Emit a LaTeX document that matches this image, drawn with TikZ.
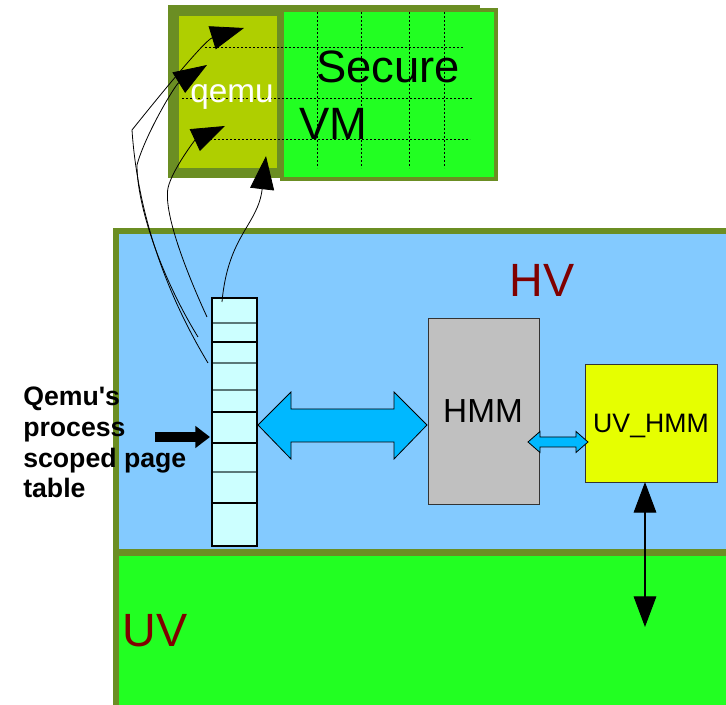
\documentclass[tikz,border=0pt]{standalone}
\usepackage{fontspec}
\setmainfont{Liberation Sans}
\usetikzlibrary{arrows.meta,fit,calc}
\definecolor{frameolive}{HTML}{6B8E23}
\definecolor{vmgreen}{HTML}{22FF22}
\definecolor{hvblue}{HTML}{83CAFF}
\definecolor{qemugreen}{HTML}{AFCF00}
\definecolor{ptcyan}{HTML}{CCFFFF}
\definecolor{linkcyan}{HTML}{00B8FF}
\definecolor{hmmgray}{HTML}{C0C0C0}
\definecolor{uvyellow}{HTML}{E6FF00}
\definecolor{labelred}{HTML}{800000}
\definecolor{rowgray}{HTML}{5A7878}
\begin{document}
\begin{tikzpicture}[
  x=0.75pt, y=-0.75pt,
  box/.style={inner sep=0pt, outer sep=0pt},
  region/.style={box, fill=#1, draw=frameolive, line width=4.5pt},
  unit/.style={box, fill=#1, draw=black!80, line width=0.6pt},
  gridline/.style={black, line width=0.7pt, dash pattern=on 1.2pt off 1.8pt},
  regionlbl/.style={text=labelred, font=\fontsize{35}{40}\selectfont, inner sep=0pt},
  biglbl/.style={font=\fontsize{34}{40}\selectfont, inner sep=0pt},
  link/.style={-{Triangle[length=25pt,width=18pt]}, line width=0.6pt},
  updown/.style={{Triangle[length=23pt,width=17pt]}-{Triangle[length=23pt,width=17pt]}, line width=0.8pt},
  pointer/.style={-{Triangle[length=11pt,width=16pt]}, line width=7.5pt},
  fatlink/.style={fill=linkcyan, draw=black, line width=0.6pt, line join=miter}
]
\useasboundingbox (0,0) rectangle (726,705);

\node[region=vmgreen, fit={(116,553) (740,712)}] (uv) {};
\node[region=hvblue, fit={(116,231) (740,552)}] (hv) {};
\node[regionlbl, anchor=base] (hvlbl) at (542,297) {HV};
\node[regionlbl, anchor=base] (uvlbl) at (155,647) {UV};

\node[box, fill=frameolive, fit={(168,5) (480,178)}] (vmframe) {};
\node[box, fill=vmgreen, draw=frameolive, line width=2.3pt, fit={(282,10) (496,179)}] (securevm) {};
\node[box, fill=qemugreen, fit={(179,16) (277,168)}] (qemu) {};
\foreach \x in {317,361,409,444}
  \draw[gridline] (\x,12) -- (\x,168);
\foreach \y/\a/\b in {47/205/463, 98/182/473, 139/210/470}
  \draw[gridline] (\a,\y) -- (\b,\y);
\node[biglbl, anchor=base] (securelbl) at (388,83) {Secure};
\node[biglbl, anchor=base] (vmlbl) at (333,140) {VM};
\node[text=white, font=\fontsize{25}{30}\selectfont, inner sep=0pt, anchor=base] (qemulbl) at (232,103) {qemu};

\node[box, fill=ptcyan, draw=black, line width=1.5pt, fit={(212,298) (257,546)}] (pt) {};
\foreach \y/\c in {323/rowgray, 342/black, 363/rowgray, 390/rowgray, 412/black, 443/black, 472/rowgray, 503/black}
  \draw[draw=\c, line width=1.1pt] (213,\y) -- (256,\y);
\node[align=left, anchor=north west, inner sep=0pt, font=\fontsize{20}{23}\selectfont\bfseries] (ptlbl) at (23,387) {Qemu\textquotesingle s\\process\\scoped page\\table};

\node[unit=hmmgray, fit={(428,318) (539,504)}] (hmm) {};
\node[unit=uvyellow, fit={(585,364) (717,482)}] (uvhmm) {};
\node[font=\fontsize{25}{30}\selectfont, inner sep=0pt, anchor=base] (hmmlbl) at (483,423) {HMM};
\node[font=\fontsize{20}{24}\selectfont, inner sep=0pt, anchor=base] (uvhmmlbl) at (651,433) {UV\_HMM};

\coordinate (e1) at (208,363);
\coordinate (e2) at (198,337);
\coordinate (e3) at (207,317);
\coordinate (e4) at (222,302);
\coordinate (t1) at (244,28);
\coordinate (t2) at (207,65);
\coordinate (t3) at (225,126);
\coordinate (t4) at (266,156);
\coordinate (ptr) at (155,437);
\coordinate (uvend) at (645,627);

\draw[link] (e1) .. controls (170,300) and (138,220) .. (132,130) .. controls (160,95) and (205,40) .. (t1);
\draw[link] (e2) .. controls (160,275) and (137,205) .. (137,165) .. controls (145,135) and (175,85) .. (t2);
\draw[link] (e3) .. controls (190,280) and (163,215) .. (168,188) .. controls (172,170) and (195,140) .. (t3);
\draw[link] (e4) .. controls (228,235) and (258,225) .. (t4);

\draw[pointer] (ptr) -- ($(pt.west)+(-2,15)$);
\draw[fatlink] ($(pt.east)+(1,3)$) -- ++(33,-33) -- ++(0,17) -- ++(103,0) -- ++(0,-17) -- ++(33,33) -- ++(-33,34) -- ++(0,-17) -- ++(-103,0) -- ++(0,17) -- cycle;
\draw[fatlink] ($(hmm.east)+(-11,31)$) -- ++(12,-10.5) -- ++(0,5.5) -- ++(36,0) -- ++(0,-5.5) -- ++(12,10.5) -- ++(-12,10.5) -- ++(0,-5.5) -- ++(-36,0) -- ++(0,5.5) -- cycle;
\draw[updown] ($(uvhmm.south)+(-6,0)$) -- (uvend);
\end{tikzpicture}
\end{document}
